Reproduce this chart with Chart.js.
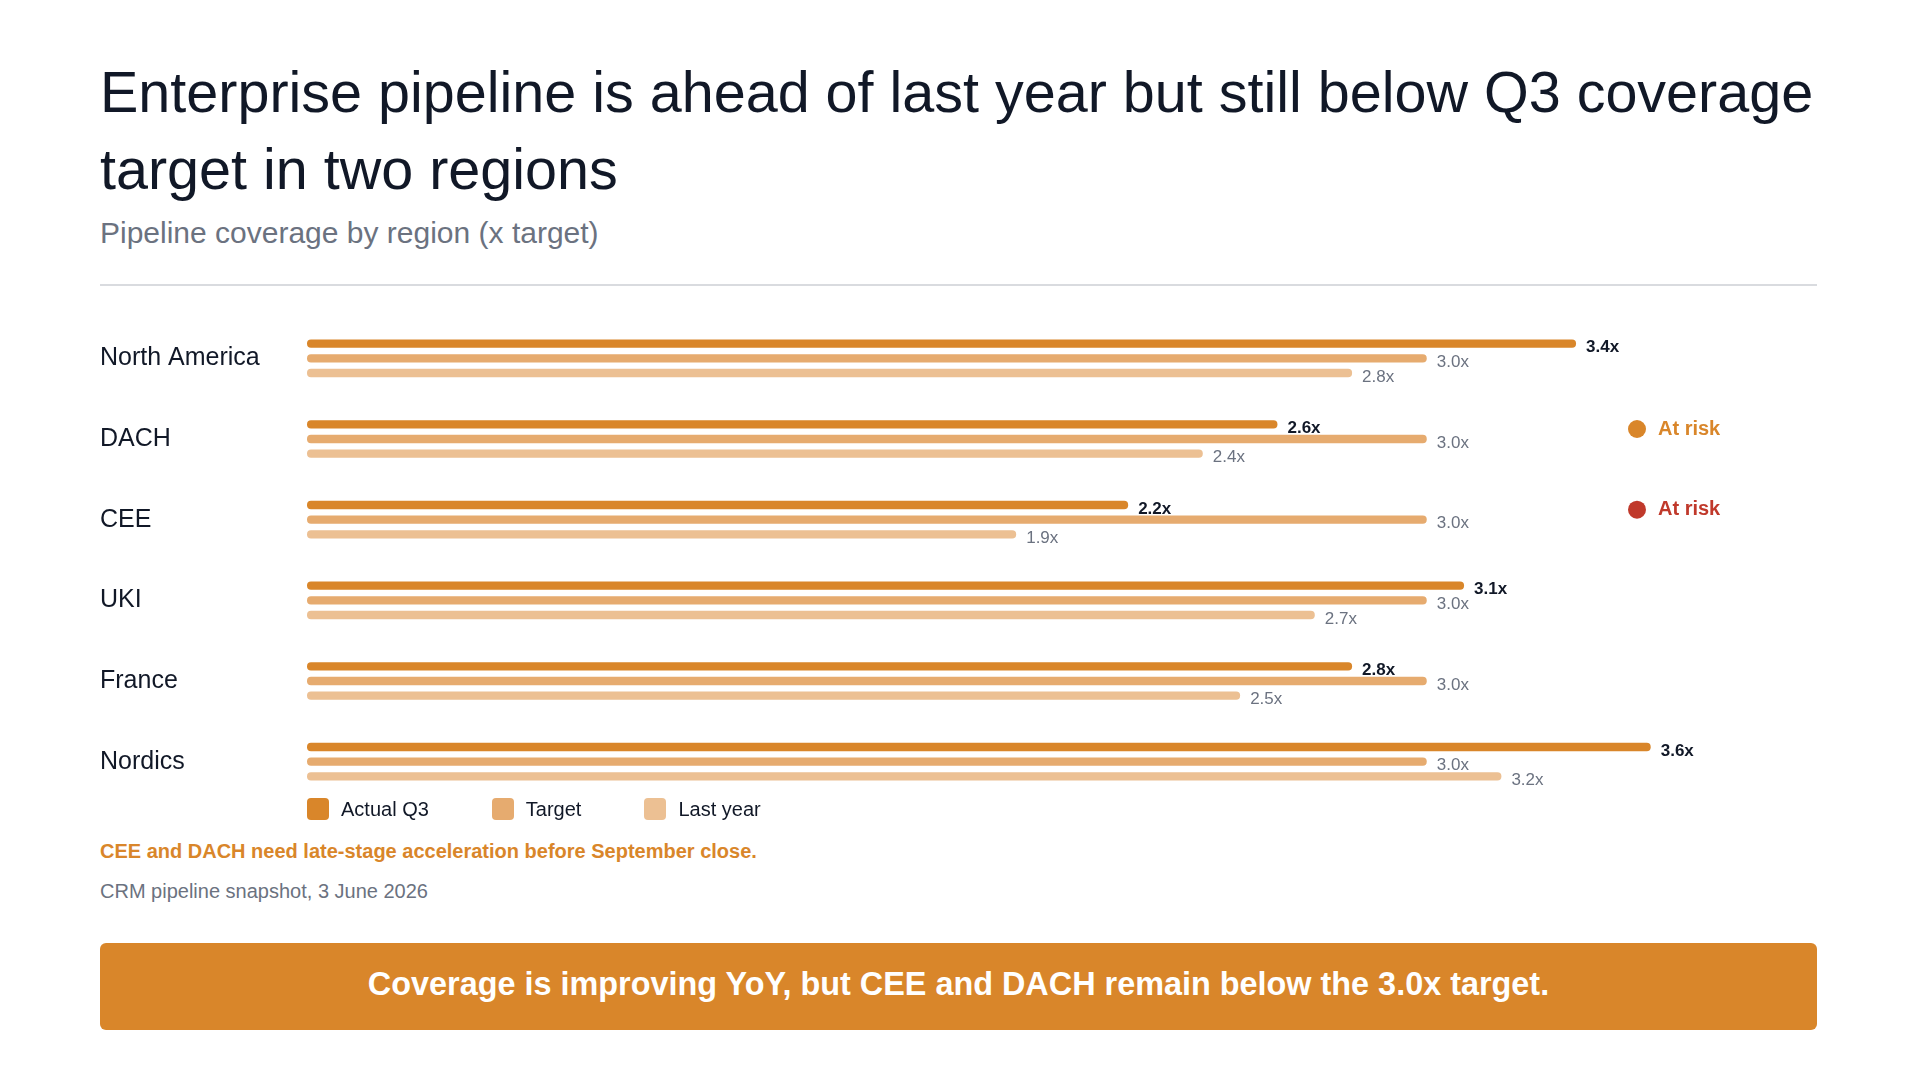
<!DOCTYPE html>
<html>
<head>
<meta charset="utf-8">
<script src="https://cdn.jsdelivr.net/npm/chart.js@4.4.1/dist/chart.umd.min.js"></script>
<style>
  body { margin: 0; background: #fff; font-family: "Liberation Sans", Arial, sans-serif; }
  .page { position: relative; width: 1919px; height: 1080px; }
  .abs { position: absolute; left: 100px; width: 1717px; }
  h1 { margin: 0; top: 54px; width: 1760px; font-size: 57.5px; line-height: 77px; font-weight: 400; color: #111827; }
  .sub { top: 215px; font-size: 30px; line-height: 36px; color: #6b7280; }
  .rule { top: 284px; height: 2px; background: #d9dbdf; }
  .chartBox { top: 306px; height: 496px; }
  .legend { top: 796px; left: 307px; width: auto; display: flex; align-items: center; height: 26px; }
  .legend .item { display: flex; align-items: center; margin-right: 63px; font-size: 20px; color: #111827; }
  .legend .sw { width: 22px; height: 22px; border-radius: 4px; margin-right: 12px; }
  .note { top: 838px; font-size: 20px; line-height: 26px; font-weight: 700; color: #d9862a; }
  .src { top: 879px; font-size: 20px; line-height: 24px; color: #6b7280; }
  .banner { top: 943px; height: 87px; border-radius: 6px; background: #d9862a; color: #fff;
            font-size: 32.4px; font-weight: 700; display: flex; align-items: center; justify-content: center; padding-bottom: 5px; box-sizing: border-box; }
</style>
</head>
<body>
<div class="page">
  <h1 class="abs">Enterprise pipeline is ahead of last year but still below Q3 coverage target in two regions</h1>
  <div class="abs sub">Pipeline coverage by region (x target)</div>
  <div class="abs rule"></div>
  <div class="abs chartBox"><canvas id="coverageChart"></canvas></div>
  <div class="abs legend" id="legend"></div>
  <div class="abs note">CEE and DACH need late-stage acceleration before September close.</div>
  <div class="abs src">CRM pipeline snapshot, 3 June 2026</div>
  <div class="abs banner">Coverage is improving YoY, but CEE and DACH remain below the 3.0x target.</div>
</div>
<script>
const regions = ["North America", "DACH", "CEE", "UKI", "France", "Nordics"];
const actualQ3 = [3.4, 2.6, 2.2, 3.1, 2.8, 3.6];
const target = [3.0, 3.0, 3.0, 3.0, 3.0, 3.0];
const lastYear = [2.8, 2.4, 1.9, 2.7, 2.5, 3.2];
const riskLabels = [null, "At risk", "At risk", null, null, null];
const riskColors = [null, "#d9862a", "#c0392b", null, null, null];

const colors = ["#d9862a", "#e6ab6f", "#ecc093"];

// value labels after each bar + risk markers on the right
const labelPlugin = {
  id: "barLabels",
  afterDatasetsDraw(chart) {
    const ctx = chart.ctx;
    ctx.save();
    ctx.textBaseline = "middle";
    ctx.textAlign = "left";
    chart.data.datasets.forEach((ds, i) => {
      const meta = chart.getDatasetMeta(i);
      meta.data.forEach((bar, j) => {
        if (i === 0) {
          ctx.font = "700 17px 'Liberation Sans', Arial, sans-serif";
          ctx.fillStyle = "#111827";
        } else {
          ctx.font = "400 17px 'Liberation Sans', Arial, sans-serif";
          ctx.fillStyle = "#6b7280";
        }
        ctx.fillText(ds.data[j].toFixed(1) + "x", bar.x + 10, bar.y + 4);
      });
    });

    const yScale = chart.scales.y;
    const cx = chart.chartArea.right - 163;
    riskLabels.forEach((lbl, j) => {
      if (!lbl) return;
      const y = yScale.getPixelForValue(j) - 10;
      ctx.fillStyle = riskColors[j];
      ctx.beginPath();
      ctx.arc(cx, y, 9, 0, Math.PI * 2);
      ctx.fill();
      ctx.font = "700 20px 'Liberation Sans', Arial, sans-serif";
      ctx.fillText(lbl, cx + 21, y);
    });
    ctx.restore();
  }
};

const ctx = document.getElementById("coverageChart").getContext("2d");
const chart = new Chart(ctx, {
  type: "bar",
  data: {
    labels: regions,
    datasets: [
      { label: "Actual Q3", data: actualQ3, backgroundColor: colors[0] },
      { label: "Target", data: target, backgroundColor: colors[1] },
      { label: "Last year", data: lastYear, backgroundColor: colors[2] }
    ]
  },
  options: {
    indexAxis: "y",
    responsive: true,
    maintainAspectRatio: false,
    animation: false,
    datasets: {
      bar: {
        categoryPercentage: 0.546,
        barPercentage: 0.57,
        borderRadius: 4,
        borderSkipped: false
      }
    },
    layout: { padding: { top: 12, bottom: 0, left: 0, right: 17 } },
    plugins: {
      legend: { display: false },
      tooltip: { enabled: false }
    },
    scales: {
      x: {
        display: false,
        min: 0,
        max: 4
      },
      y: {
        grid: { display: false },
        border: { display: false },
        ticks: {
          crossAlign: "far",
          padding: 0,
          color: "#111827",
          font: { family: "'Liberation Sans', Arial, sans-serif", size: 25 }
        },
        afterFit(scale) {
          scale.width = 207;
          scale.paddingTop = 0;
          scale.paddingBottom = 0;
        }
      }
    }
  },
  plugins: [labelPlugin]
});

// html legend built from the datasets
const legendEl = document.getElementById("legend");
chart.data.datasets.forEach(ds => {
  const item = document.createElement("div");
  item.className = "item";
  const sw = document.createElement("span");
  sw.className = "sw";
  sw.style.background = ds.backgroundColor;
  item.appendChild(sw);
  item.appendChild(document.createTextNode(ds.label));
  legendEl.appendChild(item);
});
</script>
</body>
</html>
